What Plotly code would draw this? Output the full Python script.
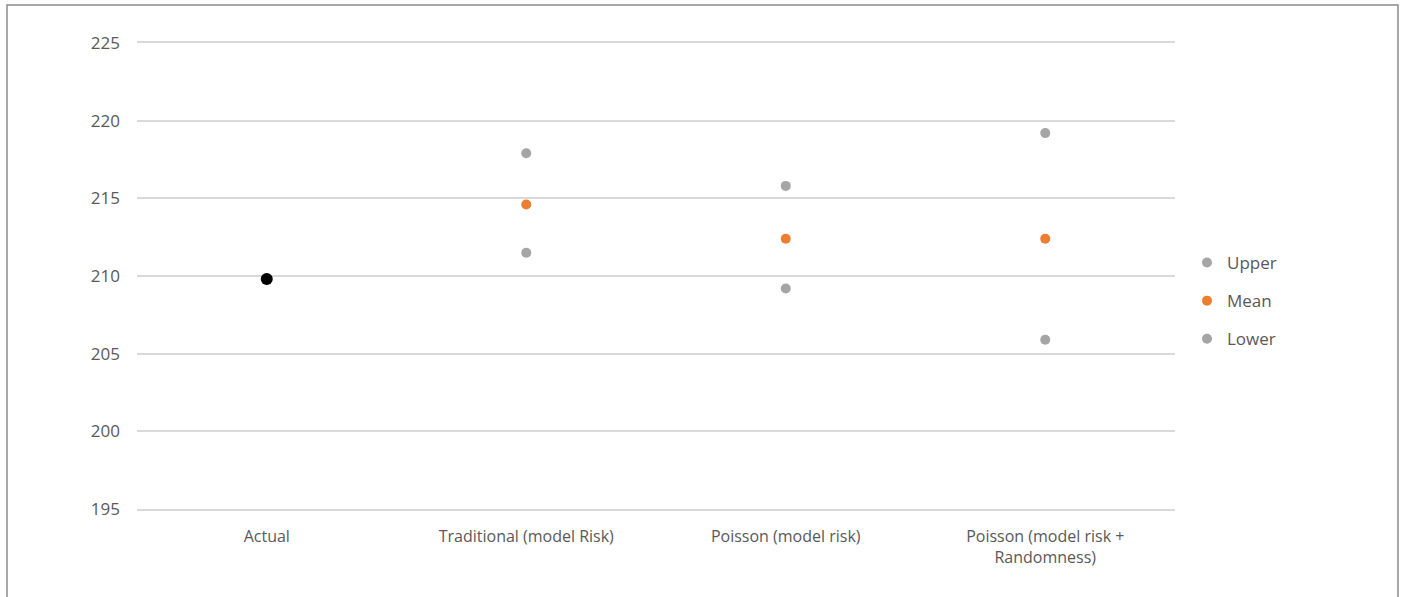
import plotly.graph_objects as go

categories = ["Actual", "Traditional (model Risk)", "Poisson (model risk)", "Poisson (model risk +<br>Randomness)"]
actual_value = [209.8]
upper = [None, 217.9, 215.8, 219.2]
mean = [None, 214.6, 212.4, 212.4]
lower = [None, 211.5, 209.2, 205.9]
y_ticks = [195, 200, 205, 210, 215, 220, 225]

fig = go.Figure()
fig.add_trace(go.Scatter(x=categories[:1], y=actual_value, mode="markers", name="Actual",
                         marker=dict(color="#000000", size=12), showlegend=False))
fig.add_trace(go.Scatter(x=categories, y=upper, mode="markers", name="Upper",
                         marker=dict(color="#a5a5a5", size=10), legendgroup="u"))
fig.add_trace(go.Scatter(x=categories, y=mean, mode="markers", name="Mean",
                         marker=dict(color="#ed7d31", size=10), legendgroup="m"))
fig.add_trace(go.Scatter(x=categories, y=lower, mode="markers", name="Lower",
                         marker=dict(color="#a5a5a5", size=10), legendgroup="l"))

L, R, T, B = 137, 1175, 43, 509
W, H = 1403, 597
pw, ph = R - L, B - T

fig.update_layout(
    width=W, height=H,
    margin=dict(l=L, r=W - R, t=T, b=H - B, pad=0),
    plot_bgcolor="white", paper_bgcolor="white",
    font=dict(family="Open Sans", size=16, color="#595959"),
    xaxis=dict(type="category", categoryorder="array", categoryarray=categories,
               range=[-0.5, 3.5], showgrid=False, zeroline=False,
               showline=True, mirror=True, linecolor="#d9d9d9", linewidth=1.5,
               ticks="", tickfont=dict(size=16, color="#595959"), ticklabelstandoff=12),
    yaxis=dict(range=[195, 225], tickvals=y_ticks, showgrid=True, gridcolor="#d9d9d9",
               gridwidth=1.5, zeroline=False, showline=False, ticks="",
               tickfont=dict(size=17, color="#595959"), ticklabelstandoff=16),
    legend=dict(x=1 + (1187 - R) / pw, y=1 - (301 - T) / ph, xanchor="left", yanchor="middle",
                font=dict(size=17, color="#595959"), tracegroupgap=13,
                traceorder="grouped", itemwidth=30),
    shapes=[dict(type="rect", xref="paper", yref="paper",
                 x0=(7 - L) / pw, x1=(1398 - L) / pw,
                 y0=-(605 - B) / ph, y1=1 + (T - 5) / ph,
                 line=dict(color="#8c8c8c", width=1.5), fillcolor="rgba(0,0,0,0)", layer="below")],
)

fig.write_html("out.html", config={"displayModeBar": False},
               post_script="document.body.style.margin='0';document.body.style.overflow='hidden';")
